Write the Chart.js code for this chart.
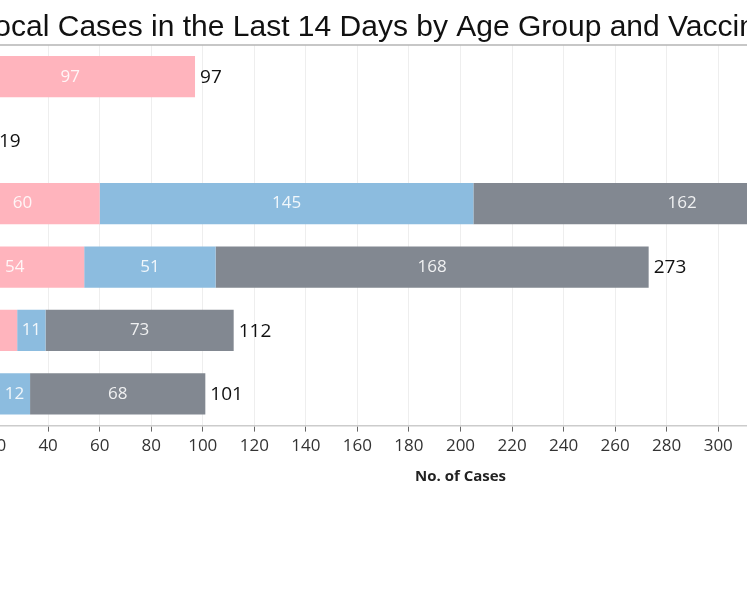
<!DOCTYPE html>
<html>
<head>
<meta charset="utf-8">
<script src="https://cdn.jsdelivr.net/npm/chart.js@4/dist/chart.umd.min.js"></script>
<style>
  html, body { margin: 0; padding: 0; background: #ffffff; overflow: hidden; width: 747px; height: 598px; }
  #wrap { position: absolute; left: -300px; top: 0; width: 1480px; height: 598px; }
</style>
</head>
<body>
<div id="wrap"><canvas id="c" width="1480" height="598"></canvas></div>
<script>
const categories = ['0-11', '12-19', '20-39', '40-59', '60-69', '70 & above'];
const unvaccinated = [97, 19, 60, 54, 28, 21];
const partiallyVaccinated = [0, 0, 145, 51, 11, 12];
const fullyVaccinated = [0, 0, 162, 168, 73, 68];
const seriesNames = ['Unvaccinated', 'Partially Vaccinated', 'Fully Vaccinated'];
const xTickStep = 20;
const xMax = 400;

const labelPlugin = {
  id: 'barLabels',
  afterDatasetsDraw(chart) {
    const ctx = chart.ctx;
    ctx.save();
    ctx.textBaseline = 'middle';
    ctx.textAlign = 'center';
    ctx.font = '17px "Open Sans"';
    ctx.fillStyle = 'rgba(255,255,255,0.88)';
    chart.data.datasets.forEach((ds, di) => {
      const meta = chart.getDatasetMeta(di);
      meta.data.forEach((el, i) => {
        const v = ds.data[i];
        if (!v) return;
        const p = el.getProps(['x', 'y', 'base'], true);
        ctx.fillText(String(v), (p.x + p.base) / 2, p.y);
      });
    });
    const xs = chart.scales.x;
    const meta0 = chart.getDatasetMeta(0);
    ctx.textAlign = 'left';
    ctx.font = '19px "Open Sans"';
    ctx.fillStyle = '#111111';
    categories.forEach((c, i) => {
      const total = chart.data.datasets.reduce((s, ds) => s + (ds.data[i] || 0), 0);
      const y = meta0.data[i].getProps(['y'], true).y;
      ctx.fillText(String(total), xs.getPixelForValue(total) + 5, y + 1);
    });
    ctx.restore();
  }
};

const titleLinePlugin = {
  id: 'titleLine',
  afterDraw(chart) {
    const ctx = chart.ctx;
    const y = chart.chartArea.top;
    ctx.save();
    ctx.strokeStyle = '#b4b4b4';
    ctx.lineWidth = 1.5;
    ctx.beginPath();
    ctx.moveTo(0, y);
    ctx.lineTo(chart.width, y);
    ctx.stroke();
    ctx.restore();
  }
};

new Chart(document.getElementById('c'), {
  type: 'bar',
  data: {
    labels: categories,
    datasets: [
      { label: seriesNames[0], data: unvaccinated, backgroundColor: '#FFB4BD' },
      { label: seriesNames[1], data: partiallyVaccinated, backgroundColor: '#8CBCDF' },
      { label: seriesNames[2], data: fullyVaccinated, backgroundColor: '#828891' }
    ]
  },
  options: {
    indexAxis: 'y',
    responsive: false,
    maintainAspectRatio: false,
    animation: false,
    devicePixelRatio: 1,
    layout: { padding: { left: 216, right: 204, top: 0, bottom: 108 } },
    datasets: { bar: { barPercentage: 0.65, categoryPercentage: 1.0, borderWidth: 0 } },
    plugins: {
      legend: { display: false },
      tooltip: { enabled: false },
      title: {
        display: true,
        text: 'Local Cases in the Last 14 Days by Age Group and Vaccination Status',
        font: { family: '"Liberation Sans", Arial, sans-serif', size: 30, weight: 'normal', lineHeight: 1 },
        color: '#111111',
        padding: { top: 13, bottom: 2 }
      }
    },
    scales: {
      x: {
        stacked: true,
        min: 0,
        max: xMax,
        ticks: { stepSize: xTickStep, font: { family: '"Open Sans"', size: 17 }, color: '#333333', padding: 4 },
        grid: { color: '#eeeeee', tickColor: '#666666', tickLength: 6, lineWidth: 1 },
        border: { color: '#cccccc', width: 1.5 },
        title: { display: true, text: 'No. of Cases', font: { family: '"Open Sans"', size: 15, weight: 'bold' }, color: '#222222', padding: { top: 8, bottom: 4 } }
      },
      y: {
        stacked: true,
        ticks: { font: { family: '"Open Sans"', size: 16 }, color: '#333333' },
        grid: { display: false },
        border: { display: false },
        afterFit(scale) { scale.width = 29; }
      }
    }
  },
  plugins: [labelPlugin, titleLinePlugin]
});
</script>
</body>
</html>
